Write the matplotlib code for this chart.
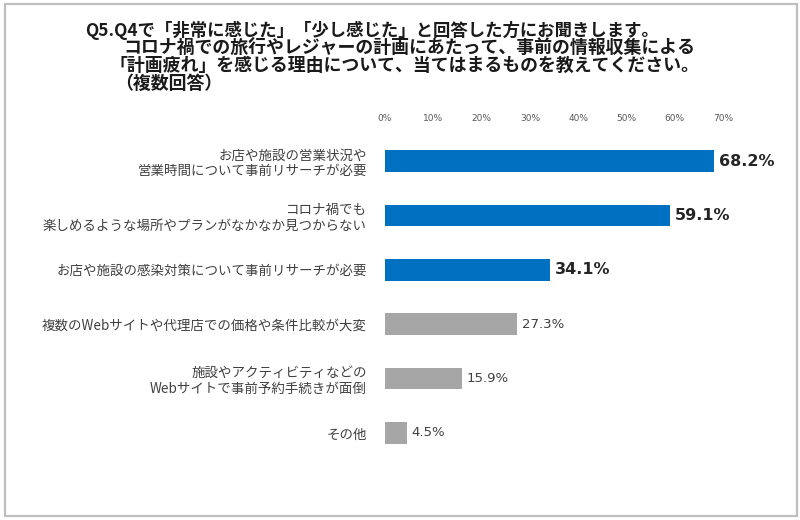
import matplotlib
matplotlib.use("Agg")
import matplotlib.pyplot as plt
from matplotlib.patches import Rectangle

plt.rcParams['font.family'] = ['Noto Sans CJK JP', 'DejaVu Sans']

# ---- data ----
title_lines = [
    "Q5.Q4で「非常に感じた」「少し感じた」と回答した方にお聞きします。",
    "コロナ禍での旅行やレジャーの計画にあたって、事前の情報収集による",
    "「計画疲れ」を感じる理由について、当てはまるものを教えてください。",
    "（複数回答）",
]
categories = [
    "お店や施設の営業状況や\n営業時間について事前リサーチが必要",
    "コロナ禍でも\n楽しめるような場所やプランがなかなか見つからない",
    "お店や施設の感染対策について事前リサーチが必要",
    "複数のWebサイトや代理店での価格や条件比較が大変",
    "施設やアクティビティなどの\nWebサイトで事前予約手続きが面倒",
    "その他",
]
values = [68.2, 59.1, 34.1, 27.3, 15.9, 4.5]
xticks = [0, 10, 20, 30, 40, 50, 60, 70]
xtick_labels = ["0%", "10%", "20%", "30%", "40%", "50%", "60%", "70%"]
n_highlight = 3

BLUE = "#0070C0"
GRAY = "#A6A6A6"
TEXT = "#404040"

W, H = 800, 520
fig = plt.figure(figsize=(W / 100, H / 100), dpi=100)
fig.patch.set_facecolor("white")

# outer frame
fig.patches.append(Rectangle((5 / W, 4 / H), 792 / W, 512 / H, transform=fig.transFigure,
                             fill=False, edgecolor="#BFBFBF", linewidth=1.6))

# axes placement (pixel based)
x0 = 385
px_per_unit = 4.83
xmax = 80
ax_top = 133.8
ax_bot = 460.2
ax = fig.add_axes([x0 / W, 1 - ax_bot / H, xmax * px_per_unit / W, (ax_bot - ax_top) / H])

ypos = list(range(len(categories)))
colors = [BLUE if i < n_highlight else GRAY for i in range(len(values))]
ax.barh(ypos, values, height=0.4, color=colors, edgecolor="none")
ax.set_xlim(0, xmax)
ax.set_ylim(len(categories) - 0.5, -0.5)

for s in ax.spines.values():
    s.set_visible(False)

ax.xaxis.tick_top()
ax.set_xticks(xticks)
ax.set_xticklabels(xtick_labels, fontsize=6.5, color="#595959", family=["DejaVu Sans"])
ax.tick_params(axis="x", length=0, pad=8)

ax.set_yticks(ypos)
ax.set_yticklabels(categories, fontsize=9.7, color=TEXT, linespacing=1.15)
ax.tick_params(axis="y", length=0, pad=13)

for i, v in enumerate(values):
    if i < n_highlight:
        ax.text(v + 1.0, i, f"{v:.1f}%", va="center", ha="left", fontsize=11.5,
                fontweight="bold", color="#262626", family=["DejaVu Sans"])
    else:
        ax.text(v + 1.0, i, f"{v:.1f}%", va="center", ha="left", fontsize=9.5,
                color=TEXT, family=["DejaVu Sans"])

# title
title_x = [85, 123, 109, 115]
title_y = [30, 48, 66, 84]
title_size = [12.5, 12.9, 12.9, 12.9]
for t, xx, yy, fs in zip(title_lines, title_x, title_y, title_size):
    fig.text(xx / W, 1 - yy / H, t, ha="left", va="center", fontsize=fs,
             fontweight="bold", color="#1a1a1a")

fig.savefig("out.png", dpi=100, facecolor="white")
